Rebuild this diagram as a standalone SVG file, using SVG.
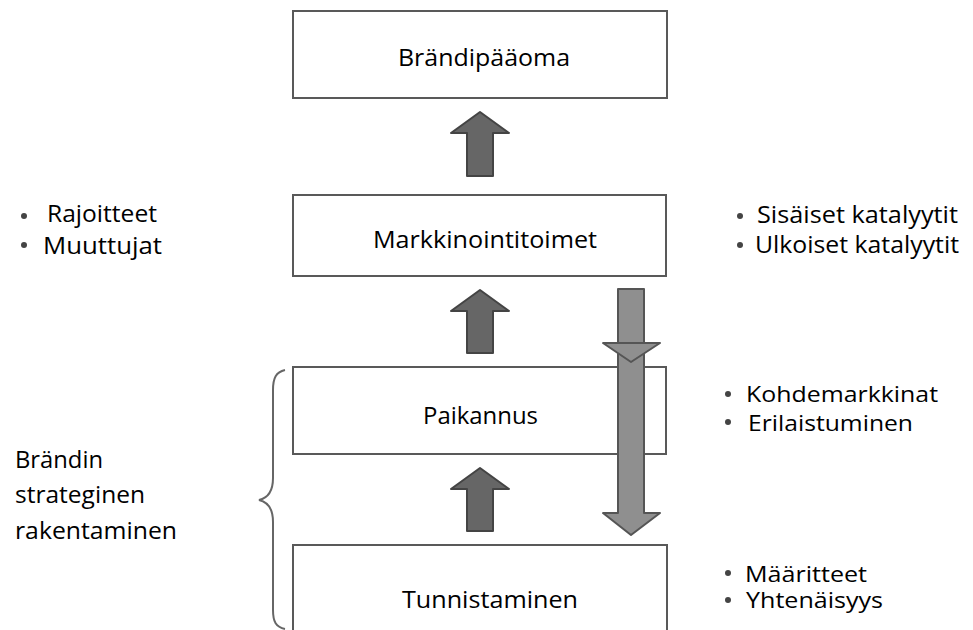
<svg xmlns="http://www.w3.org/2000/svg" width="973" height="630" viewBox="0 0 973 630">
<style>
.box{fill:#fff;stroke:#595959;stroke-width:2}
.t{font-family:"Open Sans","Liberation Sans",sans-serif;font-size:24px;fill:#000}
.s{font-size:21px}
.up{fill:#666;stroke:#444;stroke-width:2;stroke-linejoin:round}
.down{fill:#8f8f8f;stroke:#555;stroke-width:2;stroke-linejoin:round}
.brace{fill:none;stroke:#666;stroke-width:2}
.b{fill:#444}
</style>
<rect width="973" height="630" fill="#fff"/>
<g id="n1"><rect class="box" x="293" y="11" width="374" height="87"/><text class="t" x="398" y="66" textLength="172" lengthAdjust="spacingAndGlyphs">Brändipääoma</text></g>
<g id="n2"><rect class="box" x="293" y="195" width="373" height="81"/><text class="t" x="373" y="248" textLength="224" lengthAdjust="spacingAndGlyphs">Markkinointitoimet</text></g>
<g id="n3"><rect class="box" x="293" y="367" width="373" height="87"/><text class="t" x="423" y="424" textLength="115" lengthAdjust="spacingAndGlyphs">Paikannus</text></g>
<g id="n4"><rect class="box" x="293" y="545" width="374" height="100"/><text class="t" x="402" y="608" textLength="176" lengthAdjust="spacingAndGlyphs">Tunnistaminen</text></g>
<g id="connectors">
<polygon class="up" points="480,112 509,133 493,133 493,176 467,176 467,133 451,133"/>
<polygon class="up" points="480,290 509,311 493,311 493,353 467,353 467,311 451,311"/>
<polygon class="up" points="480,468 509,489 493,489 493,531 467,531 467,489 451,489"/>
<polygon class="down" points="618,289 644,289 644,513 660,513 631,535 603,513 618,513"/>
<polygon class="down" points="603,343 660,343 631,362"/>
<path class="brace" d="M285,370 C276,372 273,378 273,390 L273,478 C273,492 268,498 259,500 C268,502 273,508 273,522 L273,610 C273,622 276,627 285,629"/>
</g>
<g id="labels" class="t">
<circle class="b" cx="24" cy="216" r="3"/><text x="47" y="222" textLength="110" lengthAdjust="spacingAndGlyphs">Rajoitteet</text>
<circle class="b" cx="24" cy="245" r="3"/><text x="43" y="254" textLength="119" lengthAdjust="spacingAndGlyphs">Muuttujat</text>
<circle class="b" cx="740" cy="216" r="3"/><text x="757" y="223" textLength="201" lengthAdjust="spacingAndGlyphs">Sisäiset katalyytit</text>
<circle class="b" cx="740" cy="245" r="3"/><text x="755" y="253" textLength="204" lengthAdjust="spacingAndGlyphs">Ulkoiset katalyytit</text>
<circle class="b" cx="728" cy="394" r="3"/><text class="s" x="746" y="402" textLength="192" lengthAdjust="spacingAndGlyphs">Kohdemarkkinat</text>
<circle class="b" cx="728" cy="422" r="3"/><text class="s" x="748" y="431" textLength="165" lengthAdjust="spacingAndGlyphs">Erilaistuminen</text>
<circle class="b" cx="728" cy="573" r="3"/><text class="s" x="745" y="582" textLength="122" lengthAdjust="spacingAndGlyphs">Määritteet</text>
<circle class="b" cx="728" cy="600" r="3"/><text class="s" x="746" y="608" textLength="137" lengthAdjust="spacingAndGlyphs">Yhtenäisyys</text>
<text x="15" y="468" textLength="88" lengthAdjust="spacingAndGlyphs">Brändin</text>
<text x="15" y="503" textLength="130" lengthAdjust="spacingAndGlyphs">strateginen</text>
<text x="15" y="539" textLength="162" lengthAdjust="spacingAndGlyphs">rakentaminen</text>
</g>
</svg>
